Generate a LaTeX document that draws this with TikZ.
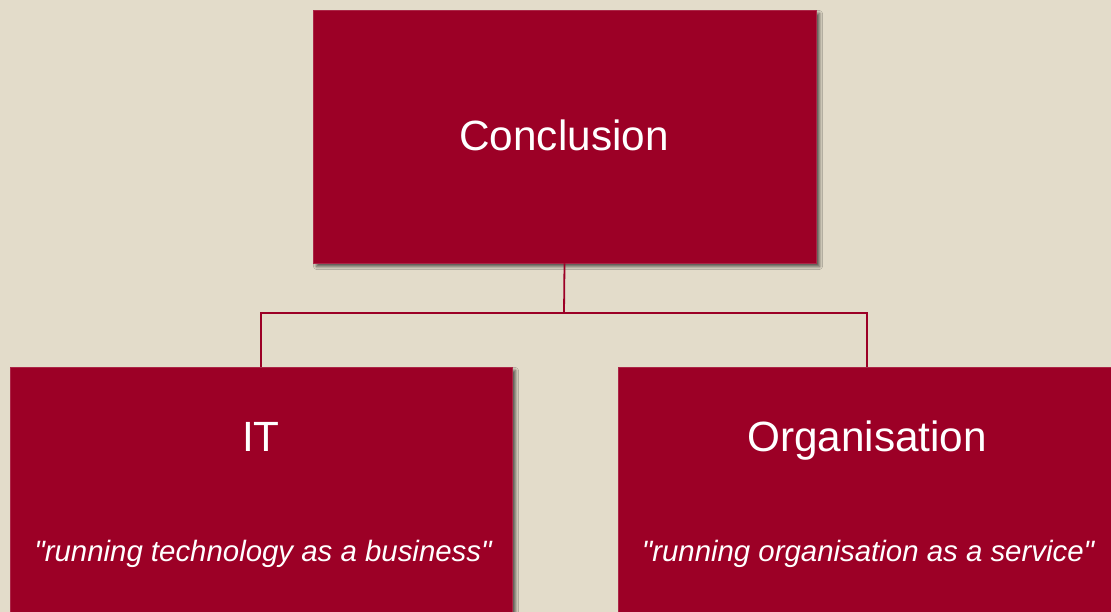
\documentclass[tikz,border=0pt]{standalone}
\usepackage{fontspec}
\setmainfont{Liberation Sans}
\newfontfamily\lsans{Liberation Sans}
\usetikzlibrary{shadows.blur}
\definecolor{bg}{HTML}{E3DCCA}
\definecolor{boxred}{HTML}{9C0026}
\begin{document}
\begin{tikzpicture}[x=1pt,y=-1pt,
  redbox/.style={draw=boxred!85!white, line width=0.6pt, fill=boxred, inner sep=0pt,
    blur shadow={shadow xshift=3.5pt, shadow yshift=-3.5pt, shadow blur steps=6, shadow blur radius=3pt, shadow opacity=65}},
  titletext/.style={text=white, font=\lsans\fontsize{42.3}{48}\selectfont, anchor=base},
  subtext/.style={text=white, font=\lsans\fontsize{29.4}{34}\selectfont\itshape, anchor=base},
  link/.style={draw=boxred, line width=1.8pt}]
\fill[bg] (0,0) rectangle (1111,612);
\useasboundingbox (0,0) rectangle (1111,612);
\clip (0,0) rectangle (1111,612);
\node[redbox, minimum width=503pt, minimum height=253pt] (c) at (564.5,136.5) {};
\node[redbox, minimum width=502pt, minimum height=280pt] (it) at (261,507) {};
\node[redbox, minimum width=498pt, minimum height=280pt] (org) at (867,507) {};
\node[titletext] (ct) at (564,151) {Conclusion};
\node[titletext] (itt) at (261,451) {IT};
\node[titletext] (orgt) at (867,451) {Organisation};
\node[subtext] (its) at (263,561) {"running technology as a business"};
\node[subtext] (orgs) at (868,561) {"running organisation as a service"};
\coordinate (j) at (564,313);
\draw[link] (c.south) -- (j);
\draw[link] (j) -| (it.north);
\draw[link] (j) -| (org.north);
\end{tikzpicture}
\end{document}
